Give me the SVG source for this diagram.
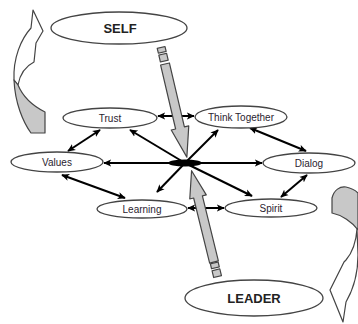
<svg xmlns="http://www.w3.org/2000/svg" width="358" height="324" viewBox="0 0 358 324">
<defs>
<marker id="ah" viewBox="0 0 10 10" refX="9" refY="5" markerWidth="8" markerHeight="8" markerUnits="userSpaceOnUse" orient="auto-start-reverse">
<path d="M0,0.5 L10,5 L0,9.5 L2.5,5 z" fill="#000"/>
</marker>
<style>
.nd{fill:#fff;stroke:#444;stroke-width:1.3}
.lb{font-family:"Liberation Sans",Arial,sans-serif;font-size:10px;fill:#2a2330;text-anchor:middle}
.big{font-family:"Liberation Sans",Arial,sans-serif;font-size:13px;font-weight:bold;fill:#222;text-anchor:middle}
.cn{stroke:#000;stroke-width:2;fill:none;marker-end:url(#ah)}
.dbl{marker-start:url(#ah)}
.gr{fill:#c8c8c8;stroke:#444;stroke-width:1.2;stroke-linejoin:round}
.wh{fill:#fff;stroke:#444;stroke-width:1.2;stroke-linejoin:round}
</style>
</defs>
<rect width="358" height="324" fill="#fff"/>

<g id="connectors">
<line class="cn" x1="185" y1="163" x2="104" y2="163"/>
<line class="cn" x1="185" y1="163" x2="262" y2="163"/>
<line class="cn" x1="185" y1="163" x2="130" y2="130"/>
<line class="cn" x1="185" y1="163" x2="218" y2="130"/>
<line class="cn" x1="185" y1="163" x2="157" y2="192"/>
<line class="cn" x1="185" y1="163" x2="252" y2="196"/>
<line class="cn dbl" x1="100" y1="130" x2="68" y2="151"/>
<line class="cn dbl" x1="62" y1="175" x2="125" y2="198"/>
<line class="cn dbl" x1="250" y1="128" x2="306" y2="151"/>
<line class="cn dbl" x1="307" y1="175" x2="281" y2="197"/>
<line class="cn dbl" x1="158" y1="116" x2="194" y2="116"/>
<line class="cn dbl" x1="188" y1="208" x2="224" y2="208"/>
</g>

<g id="hub"><ellipse cx="185" cy="163" rx="17" ry="3.5" fill="#000"/></g>

<g id="self"><ellipse class="nd" cx="119" cy="28" rx="68" ry="16"/><text class="big" x="120" y="33">SELF</text></g>
<g id="trust"><ellipse class="nd" cx="110" cy="118" rx="47" ry="10"/><text class="lb" x="110" y="121.5">Trust</text></g>
<g id="values"><ellipse class="nd" cx="57" cy="162" rx="46" ry="10"/><text class="lb" x="57" y="165.5">Values</text></g>
<g id="learning"><ellipse class="nd" cx="142" cy="209" rx="45" ry="9"/><text class="lb" x="142" y="212.5">Learning</text></g>
<g id="think-together"><ellipse class="nd" cx="241" cy="117" rx="46" ry="11"/><text class="lb" x="241" y="120.5">Think Together</text></g>
<g id="dialog"><ellipse class="nd" cx="309" cy="163" rx="46" ry="10"/><text class="lb" x="309" y="166.5">Dialog</text></g>
<g id="spirit"><ellipse class="nd" cx="271" cy="208" rx="46" ry="9"/><text class="lb" x="271" y="211.5">Spirit</text></g>
<g id="leader"><ellipse class="nd" cx="254" cy="298" rx="69" ry="18"/><text class="big" x="254" y="303">LEADER</text></g>

<g id="self-arrow" transform="translate(165,64) rotate(-13.2)">
<rect class="gr" x="-4" y="-17" width="8" height="5"/>
<rect class="gr" x="-4" y="-10" width="8" height="7"/>
<path class="gr" d="M-4.5,0 L4.5,0 L4.5,65.7 L9,65.7 L0,95.7 L-9,65.7 L-4.5,65.7 Z"/>
</g>
<g id="leader-arrow" transform="translate(214,262) rotate(166.2)">
<rect class="gr" x="-4" y="-15" width="8" height="7"/>
<rect class="gr" x="-4" y="-6" width="8" height="5"/>
<path class="gr" d="M-4.5,0 L4.5,0 L4.5,67 L8.5,67 L0,94 L-8.5,67 L-4.5,67 Z"/>
</g>

<g id="curved-arrow-left">
<path class="wh" d="M14,80 C13,58 21,39 31,28 L33,10 L43,31 L36,43 L34,62 C26,66 20,74 18,85 Z"/>
<path class="gr" d="M14,80 C15,103 23,122 31,133 L45,133 L45,112 C33,106 23,97 18,85 Z"/>
</g>
<g id="curved-arrow-right">
<path class="gr" d="M332,213 L332,198 C334,190 340,186 346,187 C351,188 355,190 358,193 L358,230 C352,222 342,215 332,213 Z"/>
<path class="wh" d="M357,229 C356,243 352,253 346,260 L344,262 L330,290 L343,322 L346,302 C353,290 358,274 358,255 Z"/>
</g>
</svg>
